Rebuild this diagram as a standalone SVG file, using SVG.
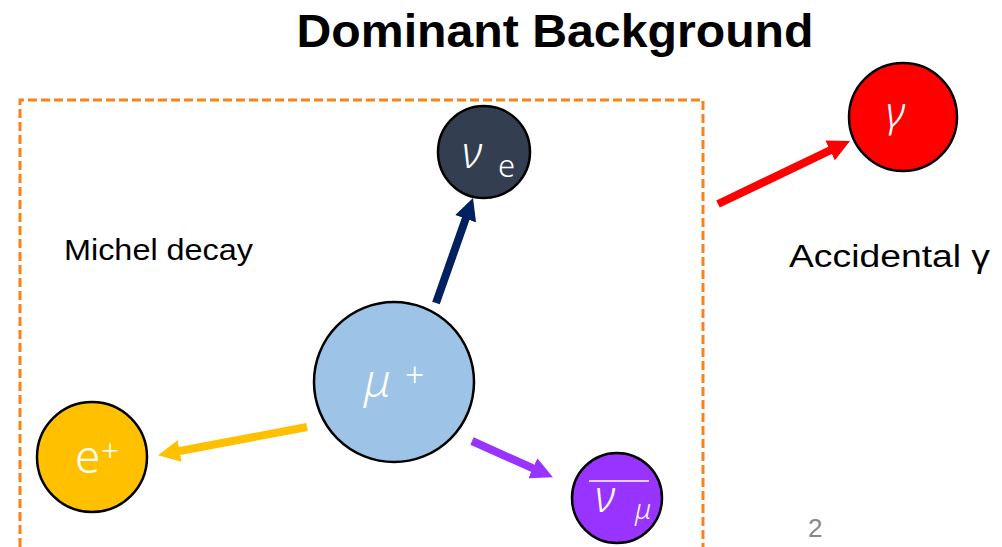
<svg xmlns="http://www.w3.org/2000/svg" width="1002" height="547" viewBox="0 0 1002 547">
<style>
.node circle{stroke:#000;stroke-width:2.5}
.g{fill:#fff;font-family:"Noto Sans","DejaVu Sans",sans-serif;font-style:italic;font-weight:300}
.s{fill:#fff;font-family:"Noto Sans","Liberation Sans",sans-serif;font-weight:300}
.lbl{fill:#000;font-family:"Liberation Sans",sans-serif}
.arr{stroke-width:8;fill:none}
</style>
<defs>
<marker id="hNavy" markerUnits="userSpaceOnUse" markerWidth="22" markerHeight="22" viewBox="0 0 22 22" refX="4" refY="11" orient="auto"><path d="M0,0 L22,11 L0,22 z" fill="#002060"/></marker>
<marker id="hYel" markerUnits="userSpaceOnUse" markerWidth="22" markerHeight="22" viewBox="0 0 22 22" refX="4" refY="11" orient="auto"><path d="M0,0 L22,11 L0,22 z" fill="#FFC000"/></marker>
<marker id="hPur" markerUnits="userSpaceOnUse" markerWidth="22" markerHeight="22" viewBox="0 0 22 22" refX="4" refY="11" orient="auto"><path d="M0,0 L22,11 L0,22 z" fill="#9933FF"/></marker>
<marker id="hRed" markerUnits="userSpaceOnUse" markerWidth="22" markerHeight="22" viewBox="0 0 22 22" refX="4" refY="11" orient="auto"><path d="M0,0 L22,11 L0,22 z" fill="#FF0000"/></marker>
</defs>
<rect width="1002" height="547" fill="#fff"/>
<text x="555" y="47" text-anchor="middle" font-family="Liberation Sans, sans-serif" font-weight="bold" font-size="46" textLength="517" lengthAdjust="spacingAndGlyphs">Dominant Background</text>
<path id="box" d="M20,547 L20,100 L703,100 L703,547" fill="none" stroke="#FA8216" stroke-width="3" stroke-dasharray="9,4"/>
<text class="lbl" x="64" y="260" font-size="30" textLength="189" lengthAdjust="spacingAndGlyphs">Michel  decay</text>
<text class="lbl" x="789" y="267" font-size="31" textLength="201" lengthAdjust="spacingAndGlyphs">Accidental γ</text>
<text x="808" y="537" font-family="Liberation Sans, sans-serif" font-size="26" fill="#888">2</text>
<g id="connectors">
<line class="arr" x1="436" y1="303" x2="467" y2="215" stroke="#002060" marker-end="url(#hNavy)"/>
<line class="arr" x1="307" y1="427" x2="175.7" y2="451.8" stroke="#FFC000" marker-end="url(#hYel)"/>
<line class="arr" x1="472" y1="441" x2="536.5" y2="469.9" stroke="#9933FF" marker-end="url(#hPur)"/>
<line class="arr" x1="718" y1="204" x2="833.7" y2="148.7" stroke="#FF0000" marker-end="url(#hRed)"/>
</g>
<g id="nu_e" class="node">
<circle cx="484" cy="152" r="46" fill="#333F50"/>
<text class="g" x="462" y="168" font-size="44">ν</text>
<text class="s" x="498" y="177" font-size="31">e</text>
</g>
<g id="mu" class="node">
<circle cx="394" cy="382" r="80" fill="#9DC3E6"/>
<text class="g" x="364" y="397" font-size="46">μ</text>
<text class="s" x="405" y="387" font-size="34">+</text>
</g>
<g id="positron" class="node">
<circle cx="92" cy="457" r="55" fill="#FFC000"/>
<text class="s" x="75" y="473" font-size="46">e</text>
<text class="s" x="101" y="462" font-size="32">+</text>
</g>
<g id="nu_mu_bar" class="node">
<circle cx="617" cy="498" r="45" fill="#9933FF"/>
<line x1="589" y1="481" x2="649" y2="481" stroke="#fff" stroke-width="1.5"/>
<text class="g" x="595" y="512" font-size="44">ν</text>
<text class="g" x="635" y="519" font-size="28">μ</text>
</g>
<g id="gamma" class="node">
<circle cx="903" cy="117" r="54" fill="#FF0000"/>
<text class="g" x="886" y="127" font-size="42">γ</text>
</g>
</svg>
